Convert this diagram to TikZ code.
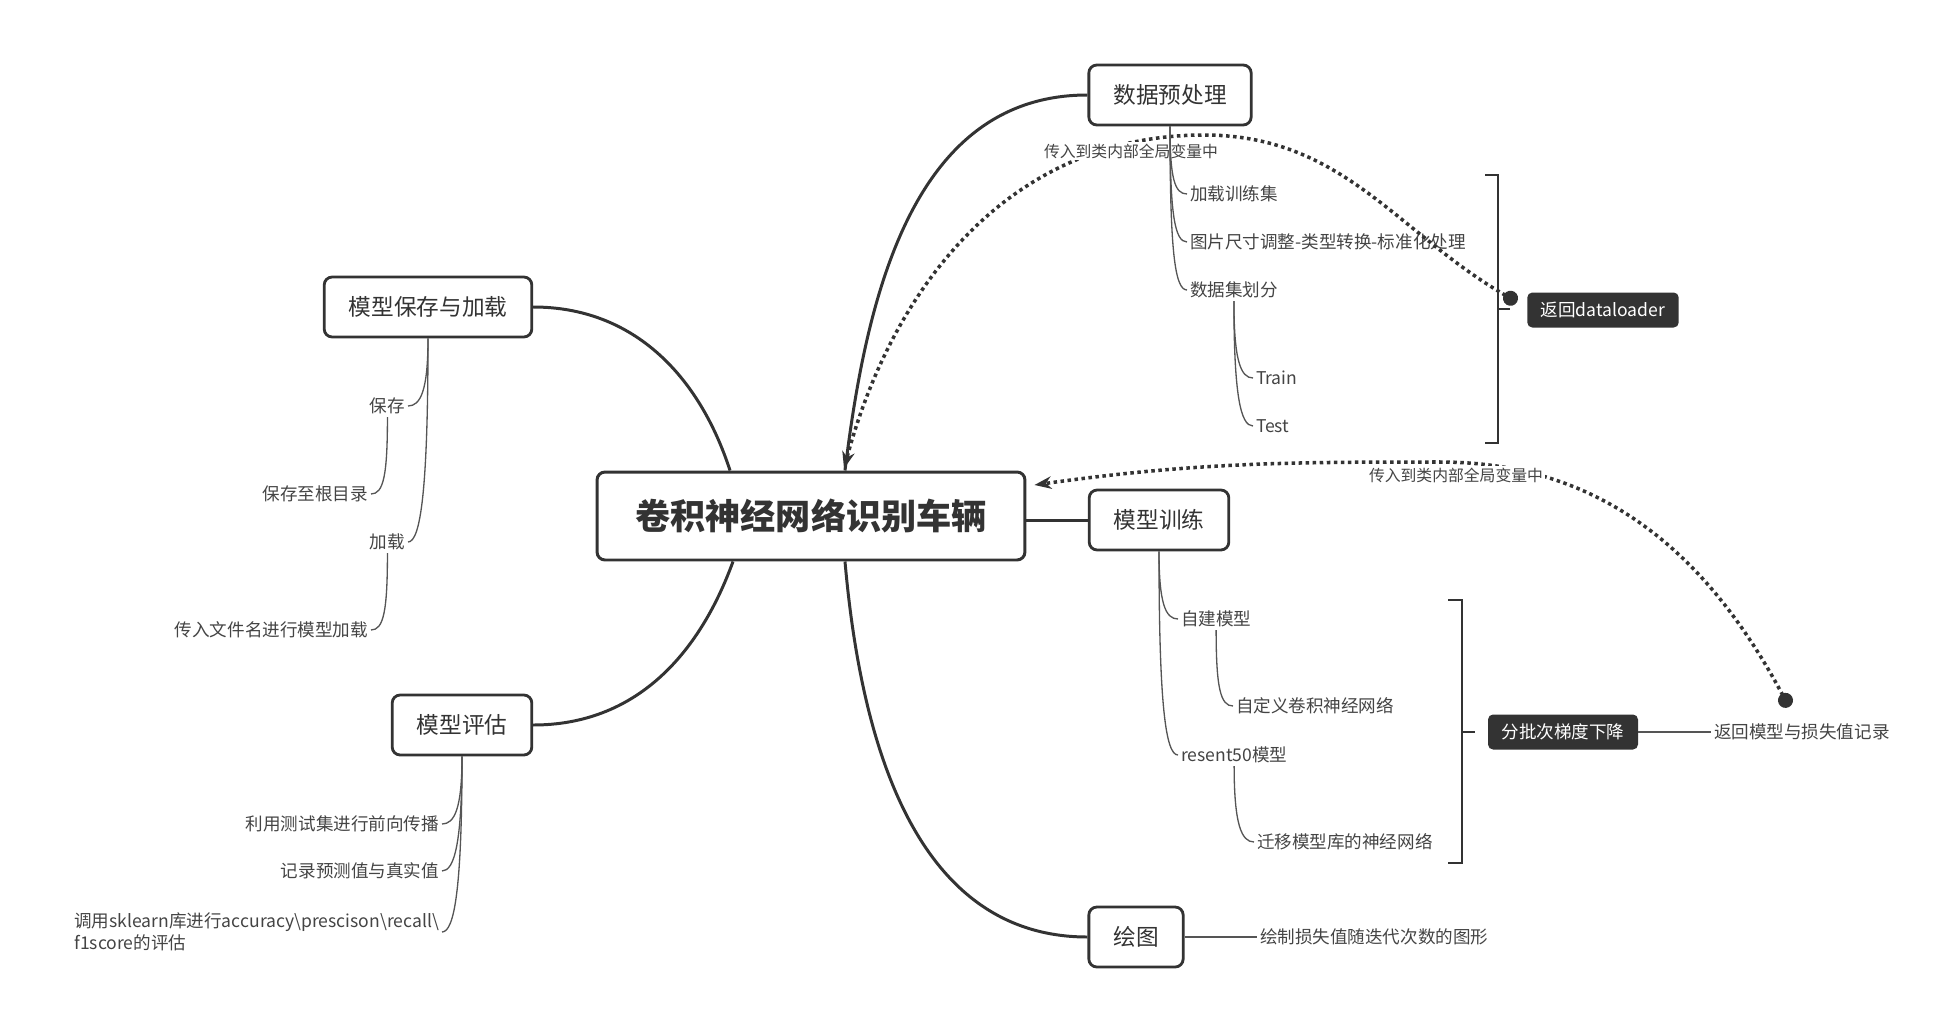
\documentclass[tikz,border=0pt]{standalone}
\usepackage{fontspec}
\setmainfont{Noto Sans CJK SC}
\usepackage{tikz}
\usetikzlibrary{
    arrows.meta,
    positioning
}
\usepackage{xcolor}
\definecolor{ink}{HTML}{333333}
\definecolor{twig}{HTML}{555555}
\definecolor{leafink}{HTML}{444444}

\begin{document}
\begin{tikzpicture}[
        x=0.02cm, y=-0.02cm,
        >=Stealth,
        root/.style={
            rectangle,
            rounded corners=0.16cm,
            draw=ink,
            line width=1.7pt,
            fill=white,
            minimum width=8.56cm,
            minimum height=1.76cm,
            text=ink,
            font=\fontsize{20}{24}\selectfont\bfseries
        },
        topic/.style={
            rectangle,
            rounded corners=0.16cm,
            draw=ink,
            line width=1.6pt,
            fill=white,
            minimum height=1.2cm,
            inner xsep=0.49cm,
            text=ink,
            font=\fontsize{12.9}{15}\selectfont
        },
        summary/.style={
            rectangle,
            rounded corners=0.1cm,
            fill=ink,
            text=white,
            minimum height=0.7cm,
            inner xsep=0.27cm,
            font=\fontsize{10}{12}\selectfont
        },
        leaf/.style={
            inner sep=1.5pt,
            text=leafink,
            font=\fontsize{10}{12.5}\selectfont
        },
        relabel/.style={
            inner sep=1pt,
            fill=white,
            text=leafink,
            font=\fontsize{9}{11}\selectfont
        },
        branch/.style={draw=ink, line width=1.7pt},
        twigline/.style={draw=twig, line width=0.75pt},
        twigright/.style={out=-90, in=180, out looseness=1.9, in distance=0.25cm},
        twigleft/.style={out=-90, in=0, out looseness=1.9, in distance=0.25cm},
        relline/.style={draw=ink, line width=2pt, dash pattern=on 2pt off 2pt},
        bracket/.style={draw=ink, line width=1.3pt}
    ]
        \useasboundingbox (0,0) rectangle (1957,1031);

        % main topics
        \node[root] (root) at (811,516) {卷积神经网络识别车辆};
        \node[topic] (prep) at (1170,95) {数据预处理};
        \node[topic] (save) at (428,307) {模型保存与加载};
        \node[topic] (train) at (1159,520) {模型训练};
        \node[topic] (eval) at (462,725) {模型评估};
        \node[topic] (plot) at (1136,937) {绘图};

        % data preprocessing
        \node[leaf, anchor=west] (load) at (1187,194) {加载训练集};
        \node[leaf, anchor=west] (resize) at (1187,242) {图片尺寸调整-类型转换-标准化处理};
        \node[leaf, anchor=west] (split) at (1187,290) {数据集划分};
        \node[leaf, anchor=west] (trainset) at (1253,378) {Train};
        \node[leaf, anchor=west] (testset) at (1253,426) {Test};

        % training
        \node[leaf, anchor=west] (own) at (1178,619) {自建模型};
        \node[leaf, anchor=west] (custom) at (1233,706) {自定义卷积神经网络};
        \node[leaf, anchor=west] (resnet) at (1178,755) {resent50模型};
        \node[leaf, anchor=west] (transfer) at (1254,842) {迁移模型库的神经网络};

        % save and load
        \node[leaf, anchor=east] (keep) at (408,406) {保存};
        \node[leaf, anchor=east] (keeproot) at (371,494) {保存至根目录};
        \node[leaf, anchor=east] (reload) at (408,542) {加载};
        \node[leaf, anchor=east] (reloadname) at (371,630) {传入文件名进行模型加载};

        % evaluation
        \node[leaf, anchor=east] (forward) at (442,824) {利用测试集进行前向传播};
        \node[leaf, anchor=east] (record) at (442,871) {记录预测值与真实值};
        \node[leaf, anchor=east, align=left] (metric) at (442,932)
            {调用sklearn库进行accuracy\textbackslash prescison\textbackslash recall\textbackslash\\f1score的评估};

        % plotting
        \node[leaf, anchor=west] (curve) at (1257,937) {绘制损失值随迭代次数的图形};

        % summaries
        \node[summary] (dl) at (1603,310) {返回dataloader};
        \node[summary] (sgd) at (1563,732) {分批次梯度下降};
        \node[leaf, anchor=west] (ret) at (1711,732) {返回模型与损失值记录};

        \coordinate (dlpin) at (1517,302);
        \coordinate (arcA) at (1204,135);
        \coordinate (retpin) at (1789,707);
        \coordinate (arcB) at (1440,462);

        % relationships
        \draw[relline, {Circle[length=0.3cm]}-{Stealth[length=0.34cm,width=0.25cm]}]
            (dlpin) to[out=150,in=0] (arcA)
            to[out=180,in=75] ([xshift=0.66cm,yshift=0.04cm]root.north);
        \draw[relline, {Circle[length=0.3cm]}-{Stealth[length=0.34cm,width=0.25cm]}]
            (retpin) to[out=118,in=0] (arcB)
            to[out=180,in=8] ([xshift=0.16cm,yshift=0.62cm]root.east);
        \node[relabel] (pass1) at (1131,151) {传入到类内部全局变量中};
        \node[relabel] (pass2) at (1456,475) {传入到类内部全局变量中};

        % branches
        \draw[branch] ([xshift=0.68cm]root.north) to[out=83,in=180] (prep.west);
        \draw[branch] ([xshift=-1.62cm]root.north) to[out=108,in=0] (save.east);
        \draw[branch] ([xshift=-1.56cm]root.south) to[out=250,in=0] (eval.east);
        \draw[branch] (root.east |- train.west) -- (train.west);
        \draw[branch] ([xshift=0.68cm]root.south) to[out=275,in=180] (plot.west);

        % twigs
        \foreach \kid in {load,resize,split}
            \draw[twigline] (prep.south) to[twigright] (\kid.west);
        \foreach \kid in {trainset,testset}
            \draw[twigline] (split.south) to[twigright] (\kid.west);
        \foreach \kid in {own,resnet}
            \draw[twigline] (train.south) to[twigright] (\kid.west);
        \draw[twigline] (own.south) to[twigright] (custom.west);
        \draw[twigline] (resnet.south) to[twigright] (transfer.west);
        \foreach \kid in {keep,reload}
            \draw[twigline] (save.south) to[twigleft] (\kid.east);
        \draw[twigline] (keep.south) to[twigleft] (keeproot.east);
        \draw[twigline] (reload.south) to[twigleft] (reloadname.east);
        \foreach \kid in {forward,record,metric}
            \draw[twigline] (eval.south) to[twigleft] (\kid.east);
        \draw[twigline] (plot.east) -- (curve.west);
        \draw[twigline] (sgd.east) -- (ret.west);

        % summary brackets
        \draw[bracket] (1485,175) -| (1498,443) -- (1485,443);
        \draw[bracket] (1498,309) -- (1510,309);
        \draw[bracket] (1448,600) -| (1462,863) -- (1448,863);
        \draw[bracket] (1462,732) -- (1475,732);
    \end{tikzpicture}
\end{document}
